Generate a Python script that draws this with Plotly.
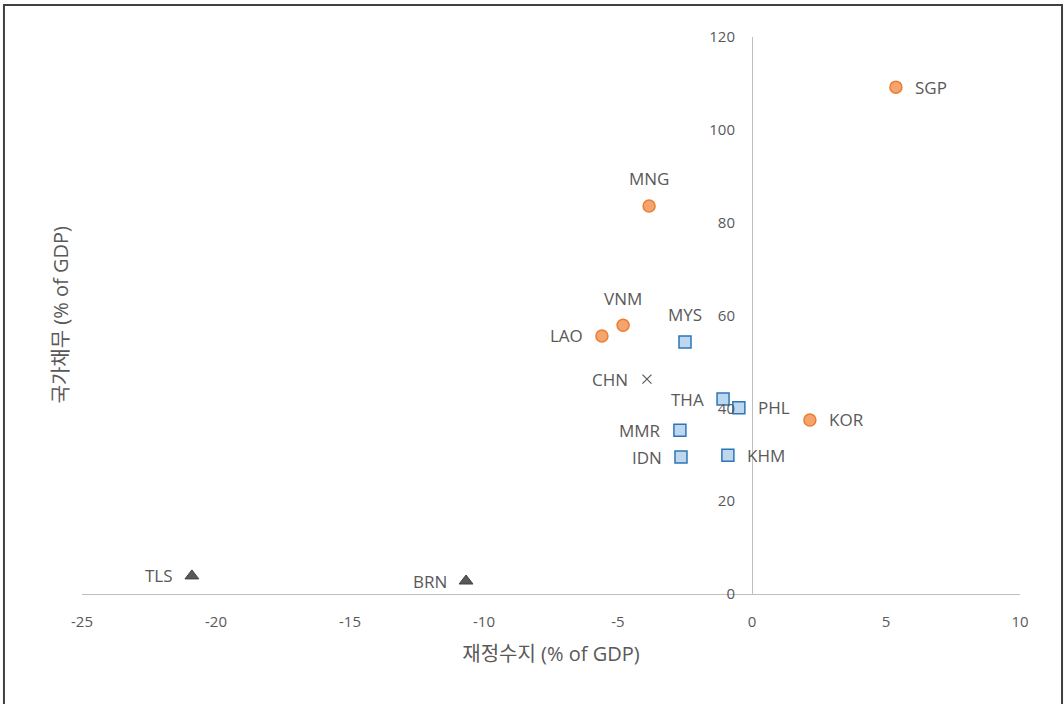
import plotly.graph_objects as go

# 재정수지 (% of GDP) vs 국가채무 (% of GDP)
high_codes = ["SGP", "MNG", "VNM", "LAO", "KOR"]
high_balance = [5.37, -3.84, -4.81, -5.60, 2.16]
high_debt = [109.2, 83.6, 57.9, 55.6, 37.5]
high_pos = ["right", "top", "top", "left", "right"]

mid_codes = ["MYS", "THA", "PHL", "MMR", "IDN", "KHM"]
mid_balance = [-2.50, -1.08, -0.49, -2.69, -2.65, -0.90]
mid_debt = [54.3, 42.0, 40.1, 35.3, 29.5, 29.9]
mid_pos = ["top", "left", "right", "left", "left", "right"]

chn_codes = ["CHN"]
chn_balance = [-3.92]
chn_debt = [46.3]
chn_pos = ["left"]

low_codes = ["TLS", "BRN"]
low_balance = [-20.9, -10.67]
low_debt = [3.9, 2.8]
low_pos = ["left", "left"]

x_ticks = [-25, -20, -15, -10, -5, 0, 5, 10]
y_ticks = [0, 20, 40, 60, 80, 100, 120]

TEXT = "#595959"
FONT = "Open Sans, Noto Sans CJK KR, sans-serif"

fig = go.Figure()

fig.add_trace(go.Scatter(
    x=high_balance, y=high_debt, mode="markers",
    marker=dict(symbol="circle", size=12, color="#F4A46E",
                line=dict(color="#ED7D31", width=1.5)),
))
fig.add_trace(go.Scatter(
    x=mid_balance, y=mid_debt, mode="markers",
    marker=dict(symbol="square", size=12, color="#BDD7EE",
                line=dict(color="#2E75B6", width=1.5)),
))
fig.add_trace(go.Scatter(
    x=chn_balance, y=chn_debt, mode="markers",
    marker=dict(symbol="x-thin", size=9, color=TEXT,
                line=dict(color=TEXT, width=1.2)),
))
fig.add_trace(go.Scatter(
    x=low_balance, y=low_debt, mode="markers",
    marker=dict(symbol="triangle-up", size=12, color="#595959",
                line=dict(color="#404040", width=1)),
))

# Country code labels placed beside their markers
labels = []
for codes, xs, ys, pos in [
    (high_codes, high_balance, high_debt, high_pos),
    (mid_codes, mid_balance, mid_debt, mid_pos),
    (chn_codes, chn_balance, chn_debt, chn_pos),
    (low_codes, low_balance, low_debt, low_pos),
]:
    for c, x, y, p in zip(codes, xs, ys, pos):
        a = dict(x=x, y=y, xref="x", yref="y", text=c, showarrow=False,
                 font=dict(family=FONT, size=17, color=TEXT), yanchor="middle")
        if p == "right":
            a.update(xanchor="left", xshift=17)
        elif p == "left":
            a.update(xanchor="right", xshift=-17)
        else:
            a.update(xanchor="center", yshift=27)
        labels.append(a)

labels.append(dict(
    text="국가채무 (% of GDP)", xref="paper", yref="paper",
    x=(60 - 82) / 938, y=0.5, xanchor="center", yanchor="middle",
    textangle=-90, showarrow=False,
    font=dict(size=20, color=TEXT, family=FONT),
))

# Outer frame around the chart
fig.add_shape(type="rect", xref="paper", yref="paper",
              x0=-0.0832, x1=1.0448, y0=-0.21, y1=1.0575,
              line=dict(color="#404040", width=2), fillcolor="rgba(0,0,0,0)")

fig.update_layout(
    width=1064, height=704,
    margin=dict(l=82, r=44, t=37, b=110),
    paper_bgcolor="white", plot_bgcolor="white",
    showlegend=False,
    font=dict(family=FONT, color=TEXT, size=15),
    xaxis=dict(
        range=[-25, 10], tickvals=x_ticks, ticktext=[str(v) for v in x_ticks],
        showgrid=False, zeroline=False,
        showline=True, linecolor="#BFBFBF", linewidth=1,
        ticks="outside", ticklen=14, tickcolor="rgba(0,0,0,0)",
        tickfont=dict(size=15, color=TEXT),
        title=dict(text="재정수지 (% of GDP)", font=dict(size=20, color=TEXT), standoff=16),
    ),
    yaxis=dict(
        range=[0, 120], tickvals=y_ticks, ticktext=[str(v) for v in y_ticks],
        showgrid=False, zeroline=False,
        showline=True, linecolor="#BFBFBF", linewidth=1,
        anchor="free", position=25 / 35,
        ticks="outside", ticklen=14, tickcolor="rgba(0,0,0,0)",
        tickfont=dict(size=15, color=TEXT),
    ),
    annotations=labels,
)

fig.write_html("out.html")
